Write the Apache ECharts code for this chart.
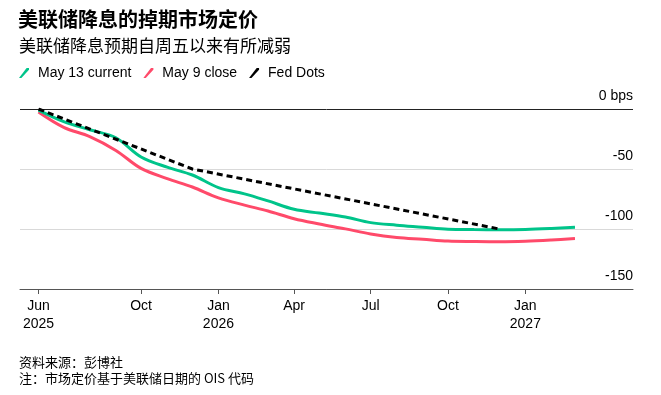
<!DOCTYPE html>
<html>
<head>
<meta charset="utf-8">
<script src="https://cdn.jsdelivr.net/npm/echarts@6/dist/echarts.min.js"></script>
<style>
html,body{margin:0;padding:0;background:#fff;}
#chart{width:661px;height:395px;}
</style>
</head>
<body>
<div id="chart"></div>
<script>
const titleText = '美联储降息的掉期市场定价';
const subtitleText = '美联储降息预期自周五以来有所减弱';
const sourceText = '资料来源：彭博社';
const noteText = '注：市场定价基于美联储日期的 OIS 代码';

const months = ['2025-06-01','2025-07-01','2025-08-01','2025-09-01','2025-10-01','2025-11-01','2025-12-01',
  '2026-01-01','2026-02-01','2026-03-01','2026-04-01','2026-05-01','2026-06-01','2026-07-01','2026-08-01',
  '2026-09-01','2026-10-01','2026-11-01','2026-12-01','2027-01-01','2027-02-01','2027-03-01'];
const may13Current = [-1, -10.6, -17.3, -24, -40, -48.5, -55, -65.5, -70.7, -76.6, -83.6, -86.7, -90, -94.7, -96.8, -98.5, -100.2, -100.5, -100.6, -100.4, -99.6, -98.6];
const may9Close = [-2.5, -15.3, -23, -34.5, -49.5, -58, -65, -74, -80.1, -85, -91.4, -95.8, -99.9, -104.1, -107, -108.5, -110, -110.4, -110.6, -110.2, -109.2, -108];
const fedDotDates = ['2025-06-01', '2025-12-01', '2026-12-01'];
const fedDots = [0, -50, -100];

const xTickDates = ['2025-06-01','2025-10-01','2026-01-01','2026-04-01','2026-07-01','2026-10-01','2027-01-01'];
const monthNames = ['Jan','Feb','Mar','Apr','May','Jun','Jul','Aug','Sep','Oct','Nov','Dec'];
const yTicks = [-150, -100, -50, 0];

function toTs(s){ const p = s.split('-').map(Number); return Date.UTC(p[0], p[1]-1, p[2]); }
const xTickTs = xTickDates.map(toTs);

const chart = echarts.init(document.getElementById('chart'), null, {renderer:'canvas'});
const fontLatin = '"Liberation Sans", Arial, "Noto Sans CJK SC", sans-serif';
const fontCJK = '"Noto Sans CJK SC", "Liberation Sans", sans-serif';
const iconPath = 'path://M0,10 L7.6,0 L10,0 L10,1.8 L2.4,10 Z';

chart.setOption({
  animation: false,
  backgroundColor: '#fff',
  title: [
    {text: titleText, left: 18, top: 9, padding: 0, textStyle: {fontFamily: fontCJK, fontSize: 20, fontWeight: 'bold', color: '#000'}},
    {text: subtitleText, left: 19, top: 37, padding: 0, textStyle: {fontFamily: fontCJK, fontSize: 17, fontWeight: 'normal', color: '#000'}},
    {text: sourceText, left: 19, top: 356, padding: 0, textStyle: {fontFamily: fontCJK, fontSize: 13, fontWeight: 'normal', color: '#000'}},
    {text: noteText, left: 19, top: 372, padding: 0, textStyle: {fontFamily: fontCJK, fontSize: 13, fontWeight: 'normal', color: '#000'}}
  ],
  legend: {
    left: 19, top: 66, padding: 0,
    itemWidth: 10, itemHeight: 10, itemGap: 12,
    itemStyle: {borderWidth: 0},
    textStyle: {fontFamily: fontLatin, fontSize: 14, color: '#000', padding: [0,0,0,4]},
    data: [
      {name: 'May 13 current', icon: iconPath},
      {name: 'May 9 close', icon: iconPath},
      {name: 'Fed Dots', icon: iconPath}
    ]
  },
  grid: {left: 20, right: 28, top: 109, bottom: 106, containLabel: false},
  xAxis: {
    type: 'value',
    min: toTs('2025-05-10'),
    max: toTs('2027-05-09'),
    axisLine: {show: true, onZero: false, lineStyle: {color: '#555', width: 1}},
    axisTick: {show: true, length: 5, lineStyle: {color: '#555'}, customValues: xTickTs},
    splitLine: {show: false},
    axisLabel: {
      customValues: xTickTs,
      margin: 8,
      fontFamily: fontLatin, fontSize: 14, color: '#000', lineHeight: 18,
      formatter: function(v){
        const d = new Date(v);
        const mi = d.getUTCMonth();
        const m = monthNames[mi];
        if (mi === 0 || (mi === 5 && d.getUTCFullYear() === 2025)) return m + '\n' + d.getUTCFullYear();
        return m;
      }
    }
  },
  yAxis: {
    type: 'value',
    position: 'right',
    min: -150, max: 0, interval: 50,
    axisLine: {show: false},
    axisTick: {show: false},
    splitLine: {show: true, lineStyle: {color: ['#555','#d9d9d9','#d9d9d9','#222'], width: 1}},
    axisLabel: {
      inside: true, margin: 0,
      fontFamily: fontLatin, fontSize: 14, color: '#000',
      verticalAlign: 'bottom', padding: [0,0,6,0],
      formatter: function(v){ return v === 0 ? '0 bps' : String(v); }
    }
  },
  series: [
    {
      name: 'May 9 close', type: 'line', smooth: 0.35, symbol: 'none',
      data: months.map((m,i) => [toTs(m), may9Close[i]]),
      itemStyle: {color: '#ff4a6a'},
      lineStyle: {color: '#ff4a6a', width: 3}
    },
    {
      name: 'May 13 current', type: 'line', smooth: 0.35, symbol: 'none',
      data: months.map((m,i) => [toTs(m), may13Current[i]]),
      itemStyle: {color: '#00c48a'},
      lineStyle: {color: '#00c48a', width: 3}
    },
    {
      name: 'Fed Dots', type: 'line', smooth: false, symbol: 'none',
      data: fedDotDates.map((d,i) => [toTs(d), fedDots[i]]),
      itemStyle: {color: '#000'},
      lineStyle: {color: '#000', width: 3, type: [6,4]}
    }
  ]
});
</script>
</body>
</html>
